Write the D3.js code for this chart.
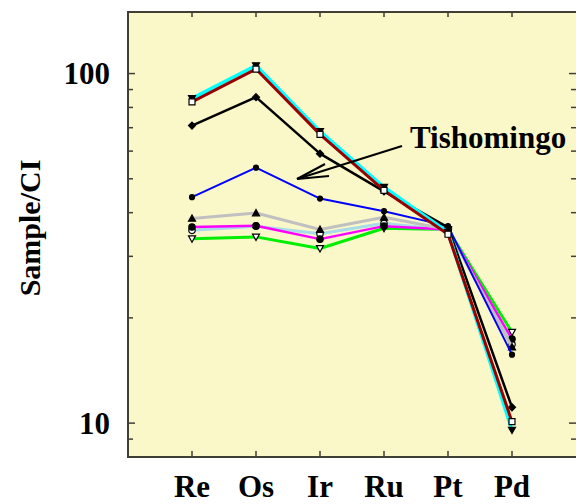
<!DOCTYPE html>
<html>
<head>
<meta charset="utf-8">
<script src="https://cdn.jsdelivr.net/npm/d3@7"></script>
<style>
  body { margin: 0; background: #fff; }
  svg { display: block; }
  text { font-family: "Liberation Serif", "Times New Roman", serif; font-weight: bold; fill: #000; }
</style>
</head>
<body>
<svg id="chart" width="576" height="504"></svg>
<script>
const elements = ["Re", "Os", "Ir", "Ru", "Pt", "Pd"];

// Sample/CI values, one array per sample
const green     = [33.7, 34.1, 31.6, 36.1, 35.8, 18.2];
const lightblue = [35.6, 36.6, 34.8, 37.3, 35.6, 16.8];
const magenta   = [36.4, 36.7, 33.6, 36.6, 35.8, 17.4];
const gray      = [38.5, 39.9, 35.8, 38.8, 35.8, 16.5];
const tishomingo = [44.3, 53.8, 43.9, 40.4, 36.6, 15.7];
const black     = [71.0, 85.6, 59.0, 46.0, 36.3, 11.1];
const darkred   = [83.0, 103.0, 67.0, 46.3, 34.7, 10.1];
const cyan      = [84.9, 105.4, 68.3, 47.3, 35.2, 9.55];

const yTicks = [9, 10, 20, 30, 40, 50, 60, 70, 80, 90, 100];
const yLabels = [10, 100];

const series = [
    {values: green,      color: "#00ee00", width: 3,   marker: "triDown", fill: "#fff"},
    {values: lightblue,  color: "#a8dce8", width: 3,   marker: "circle",  fill: "#fff"},
    {values: magenta,    color: "#ff00ff", width: 2.5, marker: "circle",  fill: "#000"},
    {values: gray,       color: "#c0c0c0", width: 3,   marker: "triUp",   fill: "#000"},
    {values: tishomingo, color: "#0000ff", width: 2,   marker: "dot",     fill: "#000"},
    {values: black,      color: "#000000", width: 2.5, marker: "diamond", fill: "#000"},
    {values: cyan,       color: "#00ffff", width: 3.5, marker: "triDown", fill: "#000"},
    {values: darkred,    color: "#990000", width: 3,   marker: "square",  fill: "#fff"}
];

const svg = d3.select("#chart");
const mLeft = 128, mRight = 576, mTop = 12, mBottom = 457;

const x = d3.scaleLinear().domain([0, elements.length + 1]).range([mLeft, mRight]);
const y = d3.scaleLog().domain([8, 150]).range([mBottom, mTop]);

const axisColor = "#3f3f36";

svg.append("rect")
    .attr("x", mLeft).attr("y", mTop)
    .attr("width", mRight - mLeft + 2).attr("height", mBottom - mTop)
    .attr("fill", "#faf8c9")
    .attr("stroke", axisColor)
    .attr("stroke-width", 2);

// ticks on all sides, pointing inward
const tickG = svg.append("g").attr("stroke", axisColor).attr("stroke-width", 1.5);
yTicks.forEach(t => {
    const len = yLabels.includes(t) ? 7 : 5;
    tickG.append("line").attr("x1", mLeft).attr("x2", mLeft + len).attr("y1", y(t)).attr("y2", y(t));
    tickG.append("line").attr("x1", mRight - len).attr("x2", mRight).attr("y1", y(t)).attr("y2", y(t));
});
elements.forEach((e, i) => {
    tickG.append("line").attr("x1", x(i + 1)).attr("x2", x(i + 1)).attr("y1", mBottom).attr("y2", mBottom - 6);
    tickG.append("line").attr("x1", x(i + 1)).attr("x2", x(i + 1)).attr("y1", mTop).attr("y2", mTop + 5);
});

svg.append("g").selectAll("text")
    .data(yLabels)
    .enter().append("text")
    .attr("x", 110)
    .attr("y", d => y(d))
    .attr("dy", "0.35em")
    .attr("text-anchor", "end")
    .attr("font-size", 31)
    .text(d => d);

svg.append("g").selectAll("text")
    .data(elements)
    .enter().append("text")
    .attr("x", (d, i) => x(i + 1))
    .attr("y", 497)
    .attr("text-anchor", "middle")
    .attr("font-size", 31)
    .text(d => d);

svg.append("text")
    .attr("transform", "translate(40,228) rotate(-90)")
    .attr("text-anchor", "middle")
    .attr("font-size", 30)
    .text("Sample/CI");

const line = d3.line()
    .x((d, i) => x(i + 1))
    .y(d => y(d));

function markerPath(type, cx, cy) {
    const s = 3.5;
    switch (type) {
        case "triDown": return `M${cx - s},${cy - s * 0.8}L${cx + s},${cy - s * 0.8}L${cx},${cy + s}Z`;
        case "triUp": return `M${cx - s},${cy + s * 0.8}L${cx + s},${cy + s * 0.8}L${cx},${cy - s}Z`;
        case "diamond": return `M${cx},${cy - s}L${cx + s},${cy}L${cx},${cy + s}L${cx - s},${cy}Z`;
        default: return `M${cx - 3},${cy - 3}h6v6h-6Z`;
    }
}

series.forEach(s => {
    svg.append("path")
        .datum(s.values)
        .attr("fill", "none")
        .attr("stroke", s.color)
        .attr("stroke-width", s.width)
        .attr("stroke-linejoin", "round")
        .attr("d", line);

    const g = svg.append("g");
    s.values.forEach((v, i) => {
        const cx = x(i + 1), cy = y(v);
        if (s.marker === "circle" || s.marker === "dot") {
            g.append("circle")
                .attr("cx", cx).attr("cy", cy)
                .attr("r", s.marker === "dot" ? 2.5 : 3.2)
                .attr("fill", s.fill)
                .attr("stroke", "#000")
                .attr("stroke-width", 1.2);
        } else {
            g.append("path")
                .attr("d", markerPath(s.marker, cx, cy))
                .attr("fill", s.fill)
                .attr("stroke", "#000")
                .attr("stroke-width", 1.2);
        }
    });
});

// Tishomingo annotation
svg.append("text")
    .attr("x", 410)
    .attr("y", 148)
    .attr("font-size", 31)
    .text("Tishomingo");

const arrow = svg.append("g").attr("stroke", "#000").attr("stroke-width", 2).attr("fill", "none");
arrow.append("line").attr("x1", 402).attr("y1", 146).attr("x2", 297).attr("y2", 179);
arrow.append("line").attr("x1", 297).attr("y1", 179).attr("x2", 325).attr("y2", 164);
arrow.append("line").attr("x1", 297).attr("y1", 179).attr("x2", 329).attr("y2", 176);
</script>
</body>
</html>
